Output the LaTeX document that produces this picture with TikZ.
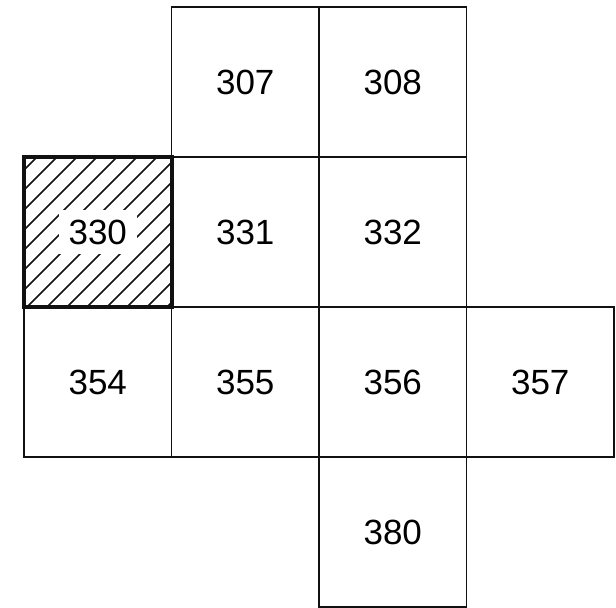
\documentclass[tikz,border=0pt]{standalone}
\usepackage{fontspec}
\setmainfont{Liberation Sans}
\usetikzlibrary{positioning}
\definecolor{ink}{HTML}{111111}
\tikzset{
  cell/.style={draw=ink,line width=0.75pt,minimum width=73.75pt,minimum height=75pt,
    outer sep=0pt,inner sep=0pt,font=\fontsize{17.5}{20}\selectfont},
  hotcell/.style={cell,line width=2pt},
  hatch/.style={draw=ink,line width=0.8pt},
}

\begin{document}
\begin{tikzpicture}[x=0.5pt,y=-0.5pt,node distance=0pt]
  \useasboundingbox (0,0) rectangle (616,608);
  \node[cell,anchor=north west] (c330) at (24,157) {};
  \node[cell,right=of c330] (c331) {331};
  \node[cell,right=of c331] (c332) {332};
  \node[cell,above=of c331] (c307) {307};
  \node[cell,right=of c307] (c308) {308};
  \node[cell,below=of c330] (c354) {354};
  \node[cell,right=of c354] (c355) {355};
  \node[cell,right=of c355] (c356) {356};
  \node[cell,right=of c356] (c357) {357};
  \node[cell,below=of c356] (c380) {380};
  % hatched square
  \begin{scope}
    \clip (c330.south west) rectangle (c330.north east);
    \foreach \x in {-114,-94,...,170}
      \draw[hatch] (\x,308) -- ++(151,-151);
  \end{scope}
  \node[hotcell,fill=none] at (c330) {};
  \node[fill=white,inner sep=5pt,font=\fontsize{17.5}{20}\selectfont] (l330) at (c330) {330};
\end{tikzpicture}
\end{document}
